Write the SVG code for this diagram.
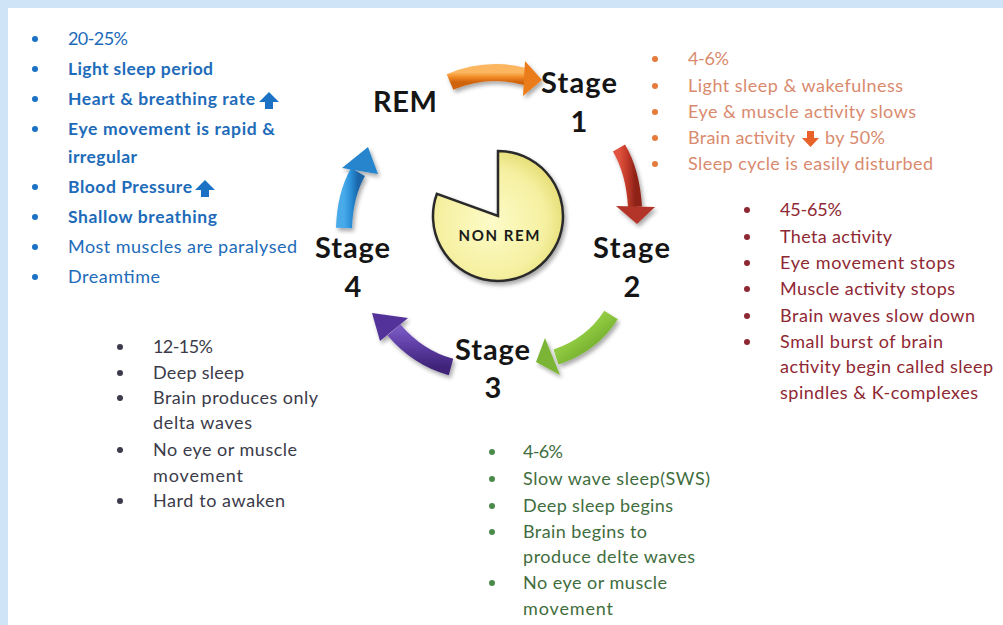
<svg xmlns="http://www.w3.org/2000/svg" width="1003" height="625" viewBox="0 0 1003 625">
  <style>
    .lbl { font-family: Lato, "Open Sans", "Liberation Sans", sans-serif; font-weight: 700; font-size: 29px; fill: #151515; }
    .li { font-family: Lato, "Open Sans", "Liberation Sans", sans-serif; font-size: 18px; }
    .blue { fill: #1d6bb9; }
    .blue .b { font-weight: 700; font-size: 17.5px; }
    .orange { fill: #d98a6e; }
    .red { fill: #8e2833; }
    .gray { fill: #3b3b4a; }
    .green { fill: #3f6d3d; }
    .dotBlue { fill: #1b72c4; }
    .dotOrange { fill: #e57b3c; }
    .dotRed { fill: #8e2833; }
    .dotGray { fill: #3b3b4a; }
    .dotGreen { fill: #4b8a4a; }
  </style>
  <defs>
    <filter id="shadow" x="-30%" y="-30%" width="170%" height="170%">
      <feGaussianBlur in="SourceAlpha" stdDeviation="2"/>
      <feOffset dx="2" dy="3" result="off"/>
      <feComponentTransfer><feFuncA type="linear" slope="0.35"/></feComponentTransfer>
      <feMerge><feMergeNode/><feMergeNode in="SourceGraphic"/></feMerge>
    </filter>
    <linearGradient id="gOrange" x1="0" y1="0" x2="0" y2="1">
      <stop offset="0" stop-color="#fbb65e"/><stop offset="0.5" stop-color="#f28a25"/><stop offset="1" stop-color="#d0640f"/>
    </linearGradient>
    <linearGradient id="gRed" x1="0" y1="0" x2="1" y2="0">
      <stop offset="0" stop-color="#e0533f"/><stop offset="0.5" stop-color="#c33a2a"/><stop offset="1" stop-color="#8f2419"/>
    </linearGradient>
    <linearGradient id="gGreen" x1="0" y1="0" x2="1" y2="1">
      <stop offset="0" stop-color="#b4e06a"/><stop offset="0.5" stop-color="#8cc63e"/><stop offset="1" stop-color="#5e9a22"/>
    </linearGradient>
    <linearGradient id="gPurple" x1="0" y1="0" x2="0" y2="1">
      <stop offset="0" stop-color="#7656c0"/><stop offset="0.5" stop-color="#5a3a9f"/><stop offset="1" stop-color="#3f2478"/>
    </linearGradient>
    <linearGradient id="gBlue" x1="0" y1="0" x2="1" y2="0">
      <stop offset="0" stop-color="#48aaea"/><stop offset="0.5" stop-color="#2a8ed6"/><stop offset="1" stop-color="#1a66a8"/>
    </linearGradient>
    <radialGradient id="gPie" cx="0.45" cy="0.55" r="0.6">
      <stop offset="0" stop-color="#fdfbc8"/><stop offset="0.7" stop-color="#f5f0a0"/><stop offset="1" stop-color="#e3da6e"/>
    </radialGradient>
  </defs>

  <!-- page background with light blue frame -->
  <rect x="0" y="0" width="1003" height="625" fill="#ffffff"/>
  <rect x="0" y="0" width="1003" height="8" fill="#cfe5f7"/>
  <rect x="0" y="0" width="8" height="625" fill="#cfe5f7"/>

  <!-- centre pie -->
  <g id="nonrem">
    <path d="M498,216 L498,151 A65,65 0 1 1 436.9,193.8 Z" fill="url(#gPie)" stroke="#2a2a2a" stroke-width="2.5" filter="url(#shadow)"/>
    <text x="499" y="241" text-anchor="middle" font-family="Lato, 'Liberation Sans', sans-serif" font-weight="700" font-size="15" fill="#1a1a1a" textLength="81">NON REM</text>
  </g>

  <!-- cycle arrows -->
  <g id="connectors" filter="url(#shadow)">
    <g id="arrow-rem-s1">
      <path d="M450,82 Q488,66 527,77" fill="none" stroke="url(#gOrange)" stroke-width="17"/>
      <polygon points="525,61 542,80 523,96" fill="#ea7c1c"/>
    </g>
    <g id="arrow-s1-s2">
      <path d="M619,148 Q633,172 635,207" fill="none" stroke="url(#gRed)" stroke-width="14"/>
      <polygon points="616,206 655,207 637,224" fill="#b3362a"/>
    </g>
    <g id="arrow-s2-s3">
      <path d="M611,315 Q592,345 556,357" fill="none" stroke="url(#gGreen)" stroke-width="16"/>
      <polygon points="545,338 560,375 536,362" fill="#7cb535"/>
    </g>
    <g id="arrow-s3-s4">
      <path d="M451,367 Q418,358 394,330" fill="none" stroke="url(#gPurple)" stroke-width="17"/>
      <polygon points="408,318 380,341 372,313" fill="#52339a"/>
    </g>
    <g id="arrow-s4-rem">
      <path d="M344,228 Q345,195 358,172" fill="none" stroke="url(#gBlue)" stroke-width="16"/>
      <polygon points="342,168 378,174 368,147" fill="#2585cc"/>
    </g>
  </g>

  <!-- REM -->
  <g id="rem">
    <text class="lbl" x="373" y="112" textLength="64">REM</text>
    <g class="li blue">
      <text x="68" y="45" textLength="60">20-25%</text>
      <text class="b" x="68" y="75" textLength="145">Light sleep period</text>
      <text class="b" x="68" y="105" textLength="187">Heart &amp; breathing rate</text>
      <text class="b" x="68" y="135" textLength="207">Eye movement is rapid &amp;</text>
      <text class="b" x="68" y="163" textLength="69">irregular</text>
      <text class="b" x="68" y="193" textLength="124">Blood Pressure</text>
      <text class="b" x="68" y="223" textLength="149">Shallow breathing</text>
      <text x="68" y="253" textLength="229">Most muscles are paralysed</text>
      <text x="68" y="283" textLength="92">Dreamtime</text>
    </g>
    <g class="dotBlue">
      <circle cx="35" cy="39" r="3"/><circle cx="35" cy="69" r="3"/><circle cx="35" cy="99" r="3"/>
      <circle cx="35" cy="129" r="3"/><circle cx="35" cy="187" r="3"/><circle cx="35" cy="217" r="3"/>
      <circle cx="35" cy="247" r="3"/><circle cx="35" cy="277" r="3"/>
    </g>
    <!-- rising indicators -->
    <path d="M269,92 L279,102 L273,102 L273,109 L265,109 L265,102 L259,102 Z" fill="#1b72c4"/>
    <path d="M205,180 L215,190 L209,190 L209,197 L201,197 L201,190 L195,190 Z" fill="#1b72c4"/>
  </g>

  <!-- Stage 1 -->
  <g id="stage1">
    <text class="lbl" x="541" y="93" textLength="76">Stage</text>
    <text class="lbl" x="579" y="132" text-anchor="middle">1</text>
    <g class="li orange">
      <text x="688" y="65" textLength="41">4-6%</text>
      <text x="688" y="92" textLength="215">Light sleep &amp; wakefulness</text>
      <text x="688" y="118" textLength="228">Eye &amp; muscle activity slows</text>
      <text x="688" y="144" textLength="107">Brain activity</text>
      <text x="825" y="144" textLength="60">by 50%</text>
      <text x="688" y="170" textLength="245">Sleep cycle is easily disturbed</text>
    </g>
    <g class="dotOrange">
      <circle cx="655" cy="59" r="3"/><circle cx="655" cy="86" r="3"/><circle cx="655" cy="112" r="3"/>
      <circle cx="655" cy="138" r="3"/><circle cx="655" cy="164" r="3"/>
    </g>
    <!-- falling indicator -->
    <path d="M807,131 L814,131 L814,138 L819,138 L810.5,147 L802,138 L807,138 Z" fill="#e8622a"/>
  </g>

  <!-- Stage 2 -->
  <g id="stage2">
    <text class="lbl" x="593" y="258" textLength="77">Stage</text>
    <text class="lbl" x="632" y="297" text-anchor="middle">2</text>
    <g class="li red">
      <text x="780" y="216" textLength="62">45-65%</text>
      <text x="780" y="243" textLength="112">Theta activity</text>
      <text x="780" y="269" textLength="175">Eye movement stops</text>
      <text x="780" y="295" textLength="175">Muscle activity stops</text>
      <text x="780" y="322" textLength="195">Brain waves slow down</text>
      <text x="780" y="348" textLength="163">Small burst of brain</text>
      <text x="780" y="373" textLength="213">activity begin called sleep</text>
      <text x="780" y="399" textLength="198">spindles &amp; K-complexes</text>
    </g>
    <g class="dotRed">
      <circle cx="747" cy="210" r="3"/><circle cx="747" cy="237" r="3"/><circle cx="747" cy="263" r="3"/>
      <circle cx="747" cy="289" r="3"/><circle cx="747" cy="316" r="3"/><circle cx="747" cy="342" r="3"/>
    </g>
  </g>

  <!-- Stage 3 -->
  <g id="stage3">
    <text class="lbl" x="455" y="360" textLength="75">Stage</text>
    <text class="lbl" x="493" y="398" text-anchor="middle">3</text>
    <g class="li green">
      <text x="523" y="458" textLength="40">4-6%</text>
      <text x="523" y="485" textLength="187">Slow wave sleep(SWS)</text>
      <text x="523" y="512" textLength="150">Deep sleep begins</text>
      <text x="523" y="538" textLength="124">Brain begins to</text>
      <text x="523" y="563" textLength="172">produce delte waves</text>
      <text x="523" y="589" textLength="144">No eye or muscle</text>
      <text x="523" y="615" textLength="90">movement</text>
    </g>
    <g class="dotGreen">
      <circle cx="492" cy="452" r="3"/><circle cx="492" cy="479" r="3"/><circle cx="492" cy="506" r="3"/>
      <circle cx="492" cy="532" r="3"/><circle cx="492" cy="583" r="3"/>
    </g>
  </g>

  <!-- Stage 4 -->
  <g id="stage4">
    <text class="lbl" x="315" y="258" textLength="75">Stage</text>
    <text class="lbl" x="353" y="297" text-anchor="middle">4</text>
    <g class="li gray">
      <text x="153" y="353" textLength="60">12-15%</text>
      <text x="153" y="379" textLength="91">Deep sleep</text>
      <text x="153" y="404" textLength="165">Brain produces only</text>
      <text x="153" y="429" textLength="99">delta waves</text>
      <text x="153" y="456" textLength="144">No eye or muscle</text>
      <text x="153" y="482" textLength="90">movement</text>
      <text x="153" y="507" textLength="132">Hard to awaken</text>
    </g>
    <g class="dotGray">
      <circle cx="120" cy="347" r="3"/><circle cx="120" cy="373" r="3"/><circle cx="120" cy="398" r="3"/>
      <circle cx="120" cy="450" r="3"/><circle cx="120" cy="501" r="3"/>
    </g>
  </g>
</svg>
